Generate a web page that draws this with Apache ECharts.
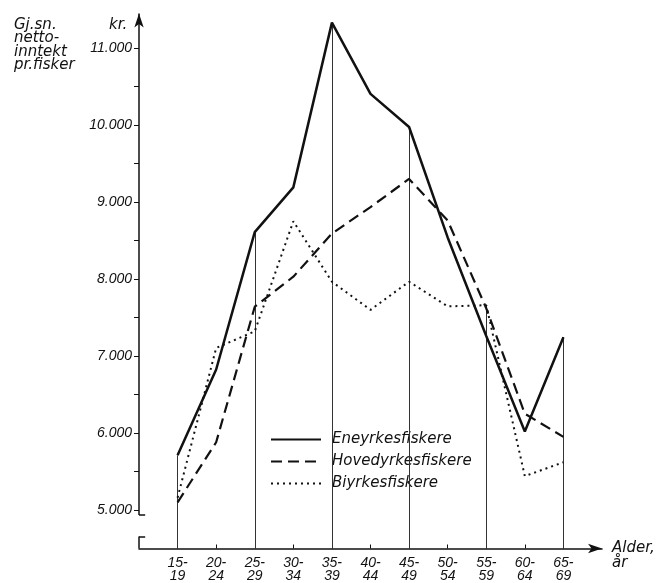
<!DOCTYPE html>
<html>
<head>
<meta charset="utf-8">
<script src="https://cdn.jsdelivr.net/npm/echarts@6/dist/echarts.min.js"></script>
<style>
html,body{margin:0;padding:0;background:#fff;}
#chart{width:670px;height:583px;}
</style>
</head>
<body>
<div id="chart"></div>
<script>
const categories = ['15-\n19','20-\n24','25-\n29','30-\n34','35-\n39','40-\n44','45-\n49','50-\n54','55-\n59','60-\n64','65-\n69'];
const seriesNames = ['Eneyrkesfiskere','Hovedyrkesfiskere','Biyrkesfiskere'];
const eneyrke   = [5710, 6825, 8610, 9190, 11330, 10405, 9975, 8540, 7260, 6020, 7245];
const hovedyrke = [5100, 5880, 7640, 8030, 8590, 8935, 9300, 8760, 7620, 6250, 5950];
const biyrke    = [5160, 7105, 7320, 8750, 7965, 7600, 7965, 7645, 7660, 5440, 5620];
const yLabelValues = [5000, 6000, 7000, 8000, 9000, 10000, 11000];
const yTickValues = [5000, 5500, 6000, 6500, 7000, 7500, 8000, 8500, 9000, 9500, 10000, 10500, 11000];
const yTitle = 'Gj.sn.\nnetto-\ninntekt\npr.fisker';
const yUnit = 'kr.';
const xTitle = 'Alder,\når';

const FONT = 'Liberation Sans';
const WIDE = 'DejaVu Sans';
const INK = '#111';
const yMin = 4500, yMax = 11450;
const xPositions = categories.map((c, i) => i + 1);

const toPairs = arr => arr.map((v, i) => [xPositions[i], v]);

// drop lines at every second category, reaching the highest curve
const dropLines = [];
for (let i = 0; i < categories.length; i += 2) {
  const top = Math.max(eneyrke[i], hovedyrke[i], biyrke[i]);
  dropLines.push([{coord: [xPositions[i], yMin]}, {coord: [xPositions[i], top]}]);
}
const capW = 0.16;
const axisDecor = [
  [{coord: [0, 4935], symbol: 'none'}, {coord: [0, yMax], symbol: 'arrow', symbolSize: [7, 14]}],
  [{coord: [0, 4935]}, {coord: [capW, 4935]}],
  [{coord: [0, yMin]}, {coord: [0, 4655]}],
  [{coord: [0, 4655]}, {coord: [capW, 4655]}]
];

const chart = echarts.init(document.getElementById('chart'));
const fmtY = v => (v / 1000) + '.000';

chart.setOption({
  backgroundColor: '#fff',
  animation: false,
  title: [
    {text: yTitle, left: 9, top: 13, textStyle: {fontFamily: WIDE, fontStyle: 'italic', fontWeight: 'normal', fontSize: 15, lineHeight: 13.5, color: INK}},
    {text: yUnit, left: 104, top: 13, textStyle: {fontFamily: WIDE, fontStyle: 'italic', fontWeight: 'normal', fontSize: 15, color: INK}}
  ],
  grid: {left: 139, right: 68, top: 13.4, bottom: 31.3, containLabel: false},
  legend: {
    data: seriesNames,
    orient: 'vertical',
    left: 266, top: 429,
    itemWidth: 50, itemHeight: 14, itemGap: 7,
    backgroundColor: '#fff',
    padding: [3, 6, 3, 4],
    itemStyle: {opacity: 0},
    textStyle: {fontFamily: WIDE, fontStyle: 'italic', fontSize: 15, color: INK, padding: [0, 0, 0, 6]}
  },
  xAxis: {
    type: 'value', min: 0, max: 12,
    axisLine: {show: true, onZero: false, symbol: ['none', 'arrow'], symbolSize: [7, 14], lineStyle: {color: INK, width: 1.5}},
    axisTick: {show: true, customValues: xPositions, inside: true, length: 4, lineStyle: {color: INK, width: 1}},
    axisLabel: {customValues: xPositions, formatter: v => categories[Math.round(v) - 1] || '', fontFamily: FONT, fontStyle: 'italic', fontSize: 14, lineHeight: 13, color: INK, margin: 8},
    splitLine: {show: false},
    name: xTitle, nameLocation: 'end', nameGap: 10,
    nameTextStyle: {fontFamily: WIDE, fontStyle: 'italic', fontSize: 15, lineHeight: 15, color: INK, align: 'left', verticalAlign: 'top', padding: [-8, 0, 0, 0]}
  },
  yAxis: {
    type: 'value', min: yMin, max: yMax, interval: 500,
    axisLine: {show: false},
    axisTick: {show: true, customValues: yTickValues, length: 5, lineStyle: {color: INK, width: 1}},
    axisLabel: {customValues: yLabelValues, formatter: fmtY, fontFamily: FONT, fontStyle: 'italic', fontSize: 14, color: INK, margin: 7},
    splitLine: {show: false}
  },
  series: [
    {
      name: seriesNames[0], type: 'line', data: toPairs(eneyrke), symbol: 'none', clip: false, z: 5,
      lineStyle: {color: INK, width: 2.5, type: 'solid'}, itemStyle: {color: INK},
      markLine: {
        silent: true, symbol: 'none', label: {show: false}, animation: false,
        lineStyle: {color: '#333', width: 1, type: 'solid'},
        data: dropLines
      }
    },
    {
      name: seriesNames[1], type: 'line', data: toPairs(hovedyrke), symbol: 'none', clip: false, z: 5,
      lineStyle: {color: INK, width: 2.2, type: [11, 6]}, itemStyle: {color: INK},
      markLine: {
        silent: true, symbol: 'none', label: {show: false}, animation: false,
        lineStyle: {color: INK, width: 1.5, type: 'solid'},
        data: axisDecor
      }
    },
    {
      name: seriesNames[2], type: 'line', data: toPairs(biyrke), symbol: 'none', clip: false, z: 5,
      lineStyle: {color: INK, width: 2, type: [2, 4]}, itemStyle: {color: INK}
    }
  ]
});
</script>
</body>
</html>
